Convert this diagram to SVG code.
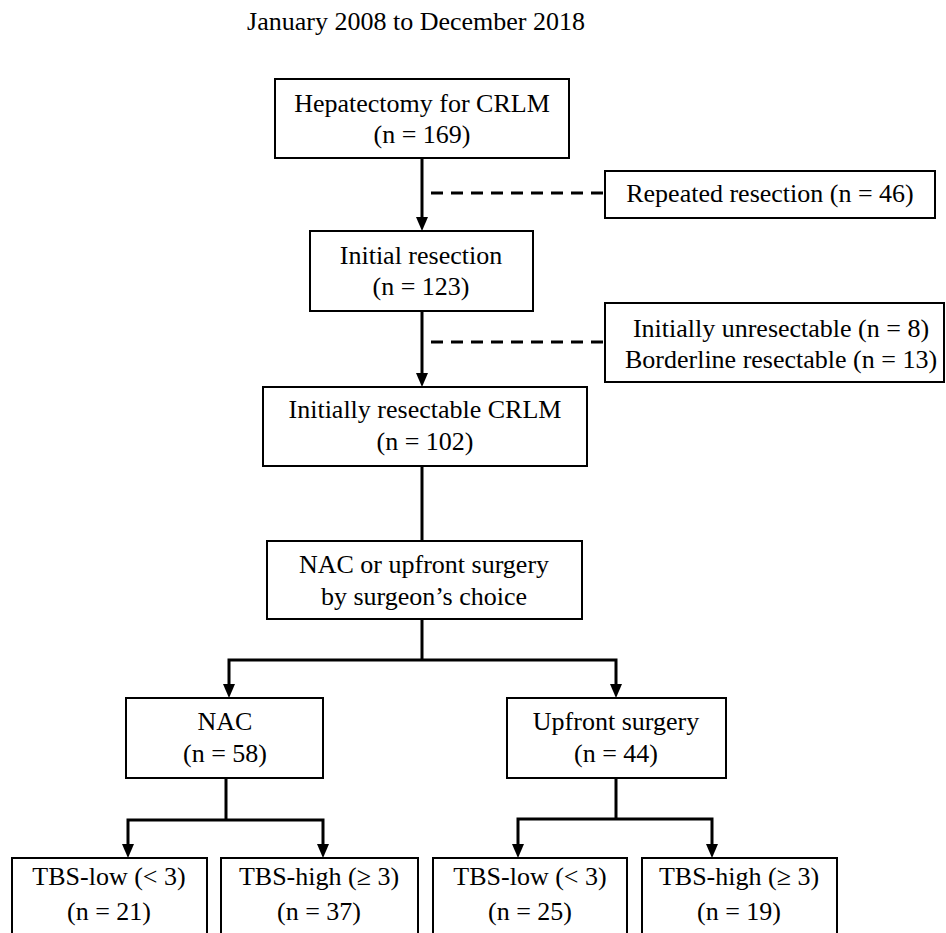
<svg xmlns="http://www.w3.org/2000/svg" width="946" height="933" viewBox="0 0 946 933">
<style>
.box{fill:#fff;stroke:#000;stroke-width:2}
.t{font-family:'Liberation Serif','Times New Roman','DejaVu Serif',serif;font-size:26px;fill:#000;text-anchor:middle}
.ln{fill:none;stroke:#000;stroke-width:3}
.dash{fill:none;stroke:#000;stroke-width:3;stroke-dasharray:12 8}
</style>
<rect width="946" height="933" fill="#fff"/>
<g font-family="Liberation Serif, Times New Roman, DejaVu Serif, serif" font-size="26" text-anchor="middle">
<text class="t" x="416" y="30">January 2008 to December 2018</text>
<g id="connectors">
<line class="ln" x1="422" y1="158" x2="422" y2="220"/>
<line class="dash" x1="431" y1="193" x2="605" y2="193"/>
<line class="ln" x1="422" y1="311" x2="422" y2="376"/>
<line class="dash" x1="431" y1="342" x2="605" y2="342"/>
<line class="ln" x1="422" y1="466" x2="422" y2="541"/>
<polyline class="ln" points="422,619 422,660"/>
<polyline class="ln" points="229,688 229,660 616,660 616,688"/>
<polyline class="ln" points="226,778 226,820"/>
<polyline class="ln" points="128,848 128,820 323,820 323,848"/>
<polyline class="ln" points="616,778 616,819"/>
<polyline class="ln" points="518,848 518,819 712,819 712,848"/>
<path d="M416,217 L428,217 L422,231 Z"/>
<path d="M416,373 L428,373 L422,387 Z"/>
<path d="M223,684 L235,684 L229,698 Z"/>
<path d="M610,684 L622,684 L616,698 Z"/>
<path d="M122,844 L134,844 L128,858 Z"/>
<path d="M317,844 L329,844 L323,858 Z"/>
<path d="M512,844 L524,844 L518,858 Z"/>
<path d="M706,844 L718,844 L712,858 Z"/>
</g>
<g id="hepatectomy">
<rect class="box" x="275" y="79" width="294" height="79"/>
<text class="t" x="422" y="112">Hepatectomy for CRLM</text>
<text class="t" x="422" y="143">(n = 169)</text>
</g>
<g id="repeated">
<rect class="box" x="605" y="171" width="330" height="47"/>
<text class="t" x="770" y="202">Repeated resection (n = 46)</text>
</g>
<g id="initial">
<rect class="box" x="310" y="231" width="223" height="80"/>
<text class="t" x="421" y="264">Initial resection</text>
<text class="t" x="421" y="295">(n = 123)</text>
</g>
<g id="excluded">
<rect class="box" x="605" y="303" width="339" height="79"/>
<text class="t" x="781" y="337">Initially unresectable (n = 8)</text>
<text class="t" x="781" y="368">Borderline resectable (n = 13)</text>
</g>
<g id="resectable">
<rect class="box" x="263" y="387" width="324" height="79"/>
<text class="t" x="425" y="418">Initially resectable CRLM</text>
<text class="t" x="425" y="450">(n = 102)</text>
</g>
<g id="choice">
<rect class="box" x="267" y="541" width="315" height="78"/>
<text class="t" x="424" y="573">NAC or upfront surgery</text>
<text class="t" x="424" y="605">by surgeon’s choice</text>
</g>
<g id="nac">
<rect class="box" x="126" y="698" width="197" height="80"/>
<text class="t" x="225" y="730">NAC</text>
<text class="t" x="225" y="762">(n = 58)</text>
</g>
<g id="upfront">
<rect class="box" x="507" y="698" width="219" height="80"/>
<text class="t" x="616" y="730">Upfront surgery</text>
<text class="t" x="616" y="762">(n = 44)</text>
</g>
<g id="nac-low">
<rect class="box" x="12" y="858" width="195" height="90"/>
<text class="t" x="109" y="885">TBS-low (&lt; 3)</text>
<text class="t" x="109" y="920">(n = 21)</text>
</g>
<g id="nac-high">
<rect class="box" x="221" y="858" width="197" height="90"/>
<text class="t" x="319" y="885">TBS-high (≥ 3)</text>
<text class="t" x="319" y="920">(n = 37)</text>
</g>
<g id="up-low">
<rect class="box" x="433" y="858" width="194" height="90"/>
<text class="t" x="530" y="885">TBS-low (&lt; 3)</text>
<text class="t" x="530" y="920">(n = 25)</text>
</g>
<g id="up-high">
<rect class="box" x="642" y="858" width="195" height="90"/>
<text class="t" x="739" y="885">TBS-high (≥ 3)</text>
<text class="t" x="739" y="920">(n = 19)</text>
</g>
</g>
</svg>
